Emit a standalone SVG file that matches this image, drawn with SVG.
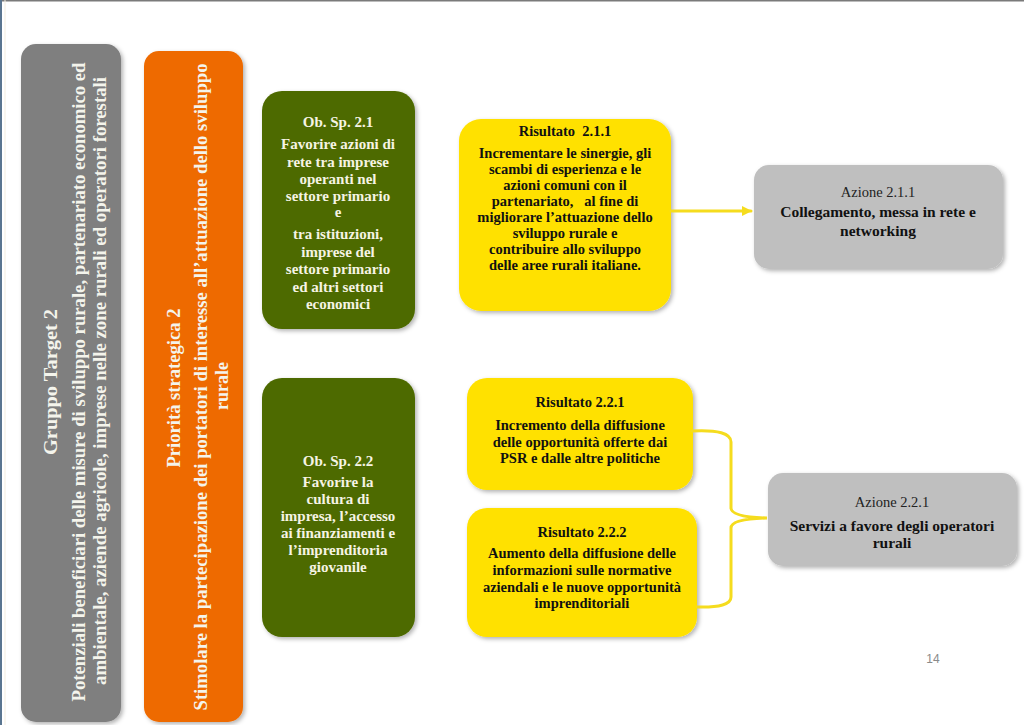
<svg xmlns="http://www.w3.org/2000/svg" width="1024" height="725" viewBox="0 0 1024 725">
<defs>
<filter id="sh" x="-10%" y="-10%" width="125%" height="125%">
<feDropShadow dx="2" dy="2" stdDeviation="2" flood-color="#000" flood-opacity="0.3"/>
</filter>
<marker id="arr" viewBox="0 0 10 10" refX="9" refY="5" markerWidth="3.4" markerHeight="3.4" orient="auto" markerUnits="strokeWidth">
<path d="M0,0 L10,5 L0,10 z" fill="#f5dc1e"/>
</marker>
<style>
.t{font-family:"Liberation Serif","Times New Roman",serif;font-weight:bold;text-anchor:middle}
.vt{font-family:"Liberation Serif","Times New Roman",serif;font-weight:bold;text-anchor:middle;fill:#f4f4ec;font-size:18px}
.g{fill:#f6f4e4;font-size:15px}
.y{fill:#111;font-size:14.5px}
.a{fill:#111;font-size:15.5px}
.an{font-family:"Liberation Serif","Times New Roman",serif;text-anchor:middle;fill:#222;font-size:14.5px}
.conn{fill:none;stroke:#f5dc1e;stroke-width:3;stroke-linecap:round}
</style>
</defs>
<rect x="0" y="0" width="1024" height="725" fill="#ffffff"/>
<line x1="0" y1="0.5" x2="1024" y2="0.5" stroke="#7a7a7a" stroke-width="2"/>
<line x1="1" y1="0" x2="1" y2="725" stroke="#5a7590" stroke-width="2"/>
<line x1="5" y1="0" x2="5" y2="725" stroke="#f3ede0" stroke-width="1"/>

<g id="gruppo-target">
<rect x="21" y="44" width="100" height="678" rx="15" fill="#7f7f7f" filter="url(#sh)"/>
<text class="vt" transform="translate(57,382) rotate(-90)" textLength="146" lengthAdjust="spacingAndGlyphs">Gruppo Target 2</text>
<text class="vt" transform="translate(85,382) rotate(-90)" textLength="639" lengthAdjust="spacingAndGlyphs">Potenziali beneficiari delle misure di sviluppo rurale, partenariato economico ed</text>
<text class="vt" transform="translate(106,381) rotate(-90)" textLength="608" lengthAdjust="spacingAndGlyphs">ambientale, aziende agricole, imprese nelle zone rurali ed operatori forestali</text>
</g>

<g id="priorita">
<rect x="144" y="51" width="99" height="671" rx="15" fill="#ee6b00" filter="url(#sh)"/>
<text class="vt" transform="translate(180,388) rotate(-90)" textLength="159" lengthAdjust="spacingAndGlyphs">Priorità strategica 2</text>
<text class="vt" transform="translate(207,387) rotate(-90)" textLength="647" lengthAdjust="spacingAndGlyphs">Stimolare la partecipazione dei portatori di interesse all’attuazione dello sviluppo</text>
<text class="vt" transform="translate(228,386) rotate(-90)" textLength="48" lengthAdjust="spacingAndGlyphs">rurale</text>
</g>

<g id="ob-2-1">
<rect x="262" y="91" width="153" height="238" rx="20" fill="#4e6a06" filter="url(#sh)"/>
<text class="t g" x="338" y="127">Ob. Sp. 2.1</text>
<text class="t g" x="338" y="149">Favorire azioni di</text>
<text class="t g" x="338" y="167">rete tra imprese</text>
<text class="t g" x="338" y="184">operanti nel</text>
<text class="t g" x="338" y="201">settore primario</text>
<text class="t g" x="338" y="217">e</text>
<text class="t g" x="338" y="239">tra istituzioni,</text>
<text class="t g" x="338" y="257">imprese del</text>
<text class="t g" x="338" y="274">settore primario</text>
<text class="t g" x="338" y="292">ed altri settori</text>
<text class="t g" x="338" y="309">economici</text>
</g>

<g id="ob-2-2">
<rect x="262" y="378" width="153" height="259" rx="20" fill="#4e6a06" filter="url(#sh)"/>
<text class="t g" x="338" y="466">Ob. Sp. 2.2</text>
<text class="t g" x="338" y="487">Favorire la</text>
<text class="t g" x="338" y="504">cultura di</text>
<text class="t g" x="338" y="521">impresa, l’accesso</text>
<text class="t g" x="338" y="538">ai finanziamenti e</text>
<text class="t g" x="338" y="555">l’imprenditoria</text>
<text class="t g" x="338" y="572">giovanile</text>
</g>

<g id="risultato-2-1-1">
<rect x="459" y="119" width="212" height="192" rx="22" fill="#ffe100" filter="url(#sh)"/>
<text class="t y" x="565" y="136">Risultato&#160; 2.1.1</text>
<text class="t y" x="565" y="158">Incrementare le sinergie, gli</text>
<text class="t y" x="565" y="174">scambi di esperienza e le</text>
<text class="t y" x="565" y="190">azioni comuni con il</text>
<text class="t y" x="565" y="206">partenariato,&#160;&#160; al fine di</text>
<text class="t y" x="565" y="222">migliorare l’attuazione dello</text>
<text class="t y" x="565" y="238">sviluppo rurale e</text>
<text class="t y" x="565" y="254">contribuire allo sviluppo</text>
<text class="t y" x="565" y="270">delle aree rurali italiane.</text>
</g>

<g id="risultato-2-2-1">
<rect x="467" y="378" width="226" height="112" rx="20" fill="#ffe100" filter="url(#sh)"/>
<text class="t y" x="580" y="407">Risultato 2.2.1</text>
<text class="t y" x="580" y="430">Incremento della diffusione</text>
<text class="t y" x="580" y="447">delle opportunità offerte dai</text>
<text class="t y" x="580" y="463">PSR e dalle altre politiche</text>
</g>

<g id="risultato-2-2-2">
<rect x="467" y="508" width="230" height="129" rx="20" fill="#ffe100" filter="url(#sh)"/>
<text class="t y" x="582" y="537">Risultato 2.2.2</text>
<text class="t y" x="582" y="558">Aumento della diffusione delle</text>
<text class="t y" x="582" y="575">informazioni sulle normative</text>
<text class="t y" x="582" y="592">aziendali e le nuove opportunità</text>
<text class="t y" x="582" y="608">imprenditoriali</text>
</g>

<g id="azione-2-1-1">
<rect x="754" y="165" width="249" height="104" rx="15" fill="#bfbfbf" filter="url(#sh)"/>
<text class="an" x="878" y="197">Azione 2.1.1</text>
<text class="t a" x="878" y="217">Collegamento, messa in rete e</text>
<text class="t a" x="878" y="236">networking</text>
</g>

<g id="azione-2-2-1">
<rect x="768" y="473" width="249" height="93" rx="15" fill="#bfbfbf" filter="url(#sh)"/>
<text class="an" x="892" y="507">Azione 2.2.1</text>
<text class="t a" x="892" y="531">Servizi a favore degli operatori</text>
<text class="t a" x="892" y="548">rurali</text>
</g>

<g id="connectors">
<line class="conn" x1="671" y1="211" x2="751" y2="211" marker-end="url(#arr)"/>
<path class="conn" d="M692,431 Q731,429 731,442 L731,508 Q731,517 767,518 Q731,519 731,528 L731,597 Q731,608 697,607"/>
</g>

<text x="933" y="663" font-family="Liberation Sans, Arial, sans-serif" font-size="12" fill="#8a8a8a" text-anchor="middle">14</text>
</svg>
